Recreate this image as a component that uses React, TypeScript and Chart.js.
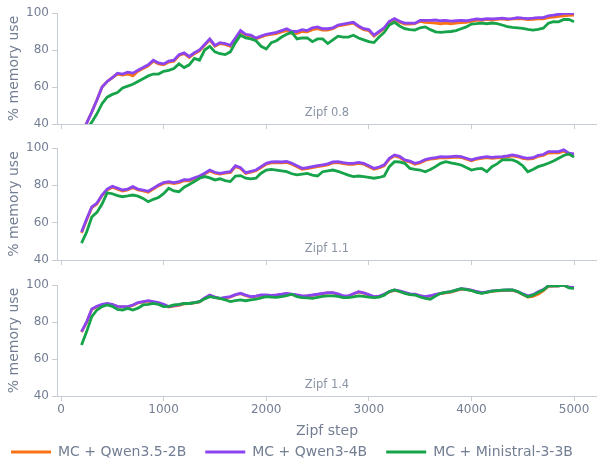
import React, { useEffect, useRef } from "react";
import { Chart, registerables } from "chart.js";

Chart.register(...registerables);

// ---------- data ----------
const steps = [
  200, 250, 300, 350, 400, 450, 500, 550, 600, 650,
  700, 750, 800, 850, 900, 950, 1000, 1050, 1100, 1150,
  1200, 1250, 1300, 1350, 1400, 1450, 1500, 1550, 1600, 1650,
  1700, 1750, 1800, 1850, 1900, 1950, 2000, 2050, 2100, 2150,
  2200, 2250, 2300, 2350, 2400, 2450, 2500, 2550, 2600, 2650,
  2700, 2750, 2800, 2850, 2900, 2950, 3000, 3050, 3100, 3150,
  3200, 3250, 3300, 3350, 3400, 3450, 3500, 3550, 3600, 3650,
  3700, 3750, 3800, 3850, 3900, 3950, 4000, 4050, 4100, 4150,
  4200, 4250, 4300, 4350, 4400, 4450, 4500, 4550, 4600, 4650,
  4700, 4750, 4800, 4850, 4900, 4950, 5000,
];

const xTickValues = [0, 1000, 2000, 3000, 4000, 5000];
const yTickValues = [40, 60, 80, 100];
const seriesNames = ["MC + Qwen3.5-2B", "MC + Qwen3-4B", "MC + Ministral-3-3B"];
const panelLabels = ["Zipf 0.8", "Zipf 1.1", "Zipf 1.4"];
const xAxisTitle = "Zipf step";
const yAxisTitle = "% memory use";

// Zipf 0.8
const zipf08Qwen35 = [
  35, 40.5, 46.5, 53, 60, 63, 65, 67, 66.5, 67,
  66, 68.5, 70, 71.5, 74, 72.5, 72, 73.5, 74, 77,
  78, 76, 78, 79.5, 82.5, 85.5, 82, 83.5, 83, 82,
  86, 90, 88, 87.5, 86, 87, 88, 88.5, 88.8, 89.8,
  90.5, 89, 89, 90, 89.8, 91, 91.5, 90.8, 90.8, 91.5,
  93, 93.5, 94, 94.5, 92.5, 91, 90.5, 87.5, 89.5, 91.5,
  95, 96.5, 95, 94, 94, 94.2, 95.5, 95, 94.8, 94.5,
  94.2, 94.5, 94.2, 94.5, 94.8, 95, 95.5, 96, 96, 96.5,
  96.2, 96.5, 96.8, 96.5, 96.8, 97, 96.8, 96.5, 96.6, 96.8,
  96.8, 97.5, 97.8, 98.2, 98.5, 98.7, 98.8,
];
const zipf08Qwen3 = [
  35, 40.5, 46.5, 53, 60, 63, 65, 67.5, 67, 68,
  67.5, 69, 70.5, 72, 74.5, 73, 72.5, 74, 74.5, 77.5,
  78.5, 76.5, 78.5, 80, 83, 86, 82.5, 84, 83.5, 82.5,
  86.5, 90.5, 88.5, 88, 86.5, 87.5, 88.5, 89, 89.5, 90.5,
  91.5, 90, 90, 91, 90.5, 92, 92.5, 91.5, 91.5, 92,
  93.5, 94, 94.5, 95, 93, 91.5, 91, 88, 90, 92,
  95.5, 97, 95.5, 94.5, 94.5, 94.5, 96, 96, 96, 96.2,
  95.8, 96, 95.6, 95.8, 96, 95.8, 96.3, 96.8, 96.5, 97,
  96.8, 97, 97.2, 96.8, 97, 97.5, 97.2, 97, 97.2, 97.5,
  97.5, 98.5, 98.8, 99.3, 99.8, 99.8, 99.8,
];
const zipf08Ministral = [
  34, 37, 41, 45.5, 51, 54.5, 56, 57, 59.5, 60.5,
  61.5, 63, 64.5, 66, 67, 67, 68.5, 69, 70, 72.5,
  70.5, 72, 75.5, 74.5, 80, 82, 79, 78, 77.5, 79,
  84, 88, 86.5, 86, 85, 82, 80.5, 84, 85, 87,
  88.5, 89.5, 86, 86.5, 86.5, 84.5, 86, 86, 83.5, 85.5,
  87.5, 87, 87, 88, 86.5, 85.5, 84.5, 84, 87, 89.5,
  93.5, 95, 93, 91.5, 91, 90.8, 92, 92.5, 91, 89.8,
  89.5, 89.8, 90, 90.5, 91.5, 92.5, 94, 94.2, 94.5, 94.2,
  94.6, 94.3, 93.5, 92.6, 92.2, 92, 91.7, 91.2, 90.8, 91.2,
  91.8, 94.5, 95.3, 95.2, 96.5, 96.5, 95.3,
];

// Zipf 1.1
const zipf11Qwen35 = [
  54.5, 61.5, 68, 70, 74.5, 77.5, 79, 78, 77, 77.5,
  78.8, 77.5, 77, 76.3, 78, 79.7, 81, 81.5, 81, 81.5,
  82.5, 82.4, 83.5, 84.5, 86, 87.7, 86.5, 86, 86.5, 86.8,
  90, 89, 86.3, 87, 87.8, 89.5, 91.3, 92, 92.2, 92,
  92.3, 91.3, 90, 88.6, 89, 89.5, 90, 90.4, 91, 92,
  92.2, 91.7, 91.3, 91.3, 91.8, 91.3, 90, 88.6, 89.3, 90.5,
  94, 95.8, 95, 93.1, 92.5, 91.3, 92, 93.3, 94, 94.3,
  94.9, 94.7, 94.9, 95.1, 94.9, 94, 93.1, 94, 94.5, 94.9,
  94.5, 94.7, 94.9, 95.3, 95.8, 95.3, 94.5, 94, 94.3, 95.5,
  96, 97.3, 97.4, 97.4, 98.3, 96.6, 96.3,
];
const zipf11Qwen3 = [
  55, 62, 68.5, 70.5, 74.8, 78, 79.5, 78.5, 77.5, 78,
  79.3, 78, 77.5, 76.8, 78.5, 80.2, 81.5, 82, 81.5, 82,
  83, 82.9, 84, 85, 86.5, 88.2, 87, 86.4, 87, 87.3,
  90.5, 89.5, 86.8, 87.5, 88.2, 90, 91.8, 92.5, 92.7, 92.5,
  92.8, 91.8, 90.5, 89.1, 89.5, 90, 90.5, 90.9, 91.5, 92.5,
  92.7, 92.2, 91.8, 91.8, 92.3, 91.8, 90.5, 89.1, 89.8, 91,
  94.5, 96.3, 95.5, 93.6, 93, 91.8, 92.5, 93.8, 94.5, 94.8,
  95.4, 95.2, 95.4, 95.6, 95.4, 94.5, 93.6, 94.5, 95, 95.4,
  95, 95.2, 95.4, 95.8, 96.3, 95.8, 95, 94.5, 94.8, 96,
  96.5, 98.1, 98.1, 98.1, 99, 97.2, 96.9,
];
const zipf11Ministral = [
  49, 55, 63, 65.5, 70, 76, 75.5, 74.5, 73.9, 74.3,
  74.8, 74.2, 73, 71.2, 72.5, 73.5, 75.5, 78.4, 77, 76.6,
  79, 80.5, 82, 83.8, 84.7, 84, 82.9, 83.5, 82.5, 82,
  85, 85.2, 83.8, 83.5, 83.8, 86.5, 88.2, 88.5, 88.2, 87.8,
  87.3, 86.2, 85.6, 86, 86.4, 85.5, 85, 87.3, 87.8, 88.2,
  87.5, 86.5, 85.5, 84.7, 85, 84.7, 84.3, 83.8, 84.2, 85,
  90, 92.7, 92.5, 91.8, 89.1, 88.5, 88.2, 87.3, 88.5, 90,
  91.8, 92.7, 92, 91.5, 90.9, 89.5, 88.2, 88.8, 89.1, 87.3,
  90, 91.5, 93.6, 93.8, 93.6, 92.5, 90.5, 87.3, 88.5, 90,
  90.8, 91.8, 93, 94.5, 96, 96.8, 95.1,
];

// Zipf 1.4
const zipf14Qwen35 = [
  74.5, 79.8, 86.8, 88.3, 89.3, 89.8, 89.3, 88.3, 88.1, 88.1,
  89, 90.3, 90.8, 91.3, 90.8, 90.3, 89.3, 88.1, 88.6, 89,
  89.8, 89.9, 90.3, 90.8, 92.8, 94.4, 93.3, 92.6, 93.1, 93.5,
  94.6, 95.3, 94.3, 93.5, 93.8, 94.4, 94.4, 94.2, 94.4, 94.8,
  95.3, 94.8, 94.4, 93.9, 94.1, 94.4, 94.8, 95.3, 95.7, 95.7,
  95, 93.9, 93.9, 95.1, 96.2, 95.6, 94.6, 93.5, 93.8, 94.8,
  96.3, 97.1, 96.6, 95.8, 95, 94.8, 94.1, 93.5, 94, 94.8,
  95.3, 95.8, 96.2, 97, 97.8, 97.6, 97.1, 96.3, 95.7, 96.1,
  96.6, 96.8, 97, 97.1, 97.1, 96.3, 94.8, 93.5, 93.8, 95,
  96.8, 99.3, 99.4, 99.5, 99.9, 98.7, 98.6,
];
const zipf14Qwen3 = [
  74.8, 80, 87, 88.5, 89.5, 90, 89.5, 88.5, 88.3, 88.3,
  89.2, 90.5, 91, 91.5, 91, 90.5, 89.5, 88.3, 88.8, 89.2,
  90, 90.1, 90.5, 91, 93, 94.6, 93.5, 92.8, 93.3, 93.7,
  94.8, 95.5, 94.5, 93.7, 94, 94.6, 94.6, 94.4, 94.6, 95,
  95.5, 95, 94.6, 94.1, 94.3, 94.6, 95, 95.5, 95.9, 95.9,
  95.2, 94.1, 94.1, 95.3, 96.4, 95.8, 94.8, 93.7, 94, 95,
  96.5, 97.3, 96.8, 96, 95.2, 95, 94.3, 93.7, 94.2, 95,
  95.5, 96, 96.4, 97.2, 98, 97.8, 97.3, 96.5, 95.9, 96.3,
  96.8, 97, 97.2, 97.3, 97.3, 96.5, 95.2, 94.1, 94.8, 96.4,
  97.5, 99.5, 99.5, 99.6, 100, 98.8, 98.7,
];
const zipf14Ministral = [
  67.6, 74.8, 82.9, 86.5, 88.3, 89.2, 88.5, 86.8, 86.5, 87.4,
  86.5, 87.5, 89.2, 89.5, 90.1, 89.5, 88.3, 88.5, 89.2, 89.5,
  90.1, 90, 90.5, 91, 92.5, 93.7, 93.2, 92.8, 92, 91,
  91.5, 91.9, 91.5, 91.9, 92.3, 93, 93.7, 93.5, 93.3, 93.7,
  94.2, 95, 93.7, 93.2, 93, 92.8, 93.3, 93.8, 94.1, 94.1,
  93.8, 93.2, 93.2, 93.6, 94.1, 93.8, 93.5, 93.2, 93.5, 94.5,
  96.5, 97.3, 96.5, 95.5, 94.8, 94.6, 93.5, 92.8, 92.3, 94,
  95.5, 96, 96.4, 97.2, 98, 97.5, 97, 96, 95.5, 96,
  96.7, 97, 97.2, 97.3, 97.3, 96.5, 95, 93.7, 94.5, 95.9,
  97.3, 99.5, 99.5, 99.6, 100, 98.5, 98.2,
];

const panelSeries = [
  [zipf08Qwen35, zipf08Qwen3, zipf08Ministral],
  [zipf11Qwen35, zipf11Qwen3, zipf11Ministral],
  [zipf14Qwen35, zipf14Qwen3, zipf14Ministral],
];

// ---------- styles ----------
const FONT = "'DejaVu Sans', sans-serif";
const TEXT = "#737e93";
const LABEL = "#8a94a6";
const AXIS = "#c6ccd6";
const COLORS = ["#f97316", "#8b45f0", "#16a34a"];
const DRAW_ORDER = [2, 1, 0];

type PanelLayout = {
  left: number; top: number; width: number; height: number;
  padTop: number; yAxisWidth: number; xAxisHeight: number;
  yTitlePad: number; bottom: boolean;
};

const layouts: PanelLayout[] = [
  { left: 0, top: 0, width: 597, height: 136, padTop: 13, yAxisWidth: 57, xAxisHeight: 12, yTitlePad: 5.6, bottom: false },
  { left: 0, top: 136, width: 597, height: 136, padTop: 12, yAxisWidth: 57, xAxisHeight: 12, yTitlePad: 5.6, bottom: false },
  { left: -8, top: 272, width: 605, height: 197, padTop: 13, yAxisWidth: 65, xAxisHeight: 30, yTitlePad: 13.6, bottom: true },
];

const panelLabelPlugin = {
  id: "panelLabel",
  afterDatasetsDraw(chart: any, _args: any, opts: any) {
    const { ctx, chartArea } = chart;
    ctx.save();
    ctx.font = `11.5px ${FONT}`;
    ctx.fillStyle = opts.color;
    ctx.textAlign = "center";
    ctx.textBaseline = "middle";
    ctx.fillText(opts.text, (chartArea.left + chartArea.right) / 2, chartArea.bottom - 11);
    ctx.restore();
  },
};

function Panel({ index }: { index: number }) {
  const ref = useRef<HTMLCanvasElement | null>(null);
  const lay = layouts[index];
  useEffect(() => {
    if (!ref.current) return;
    const series = panelSeries[index];
    const chart = new Chart(ref.current, {
      type: "line",
      data: {
        datasets: series.map((vals, i) => ({
          label: seriesNames[i],
          data: steps.map((s, j) => ({ x: s, y: vals[j] })),
          borderColor: COLORS[i],
          backgroundColor: COLORS[i],
          borderWidth: 2.8,
          pointRadius: 0,
          tension: 0,
          fill: false,
          order: DRAW_ORDER[i],
        })),
      },
      options: {
        animation: false,
        responsive: false,
        maintainAspectRatio: false,
        events: [],
        layout: { padding: { top: lay.padTop, left: 0, right: 0, bottom: 0 } },
        scales: {
          x: {
            type: "linear",
            min: -39,
            max: 5224,
            afterBuildTicks: (scale: any) => {
              scale.ticks = xTickValues.map((v) => ({ value: v }));
            },
            afterFit: (scale: any) => {
              scale.height = lay.xAxisHeight;
            },
            grid: { drawOnChartArea: false, drawTicks: true, tickLength: 5, color: AXIS, lineWidth: 1 },
            border: { display: true, color: AXIS, width: 1 },
            ticks: {
              display: lay.bottom,
              padding: 2,
              color: TEXT,
              font: { family: FONT, size: 12 },
              maxRotation: 0,
              callback: (v: any) => String(v),
            },
            title: {
              display: lay.bottom,
              text: xAxisTitle,
              color: TEXT,
              font: { family: FONT, size: 14 },
              padding: { top: 0, bottom: -13.4 },
            },
          },
          y: {
            type: "linear",
            min: 40,
            max: 100,
            afterBuildTicks: (scale: any) => {
              scale.ticks = yTickValues.map((v) => ({ value: v }));
            },
            afterFit: (scale: any) => {
              scale.width = lay.yAxisWidth;
            },
            grid: { drawOnChartArea: false, drawTicks: true, tickLength: 5, color: AXIS, lineWidth: 1 },
            border: { display: true, color: AXIS, width: 1 },
            ticks: {
              padding: 3,
              color: TEXT,
              font: { family: FONT, size: 12 },
            },
            title: {
              display: true,
              text: yAxisTitle,
              color: TEXT,
              font: { family: FONT, size: 14 },
              padding: { top: lay.yTitlePad, bottom: 0 },
            },
          },
        },
        plugins: {
          legend: {
            display: lay.bottom,
            position: "bottom",
            align: "start",
            labels: {
              usePointStyle: true,
              pointStyle: "line",
              pointStyleWidth: 40,
              padding: 19,
              color: TEXT,
              font: { family: FONT, size: 14 },
              sort: (a: any, b: any) => a.datasetIndex - b.datasetIndex,
            },
          },
          tooltip: { enabled: false },
          panelLabel: { text: panelLabels[index], color: LABEL },
        } as any,
      },
      plugins: [panelLabelPlugin],
    } as any);
    return () => chart.destroy();
  }, [index]);
  return (
    <canvas
      ref={ref}
      width={lay.width}
      height={lay.height}
      style={{ position: "absolute", left: lay.left, top: lay.top, width: lay.width, height: lay.height }}
    />
  );
}

export default function App() {
  return (
    <div
      style={{
        position: "absolute",
        left: 0,
        top: 0,
        width: 597,
        height: 459,
        overflow: "hidden",
        background: "#ffffff",
      }}
    >
      <Panel index={0} />
      <Panel index={1} />
      <Panel index={2} />
    </div>
  );
}
